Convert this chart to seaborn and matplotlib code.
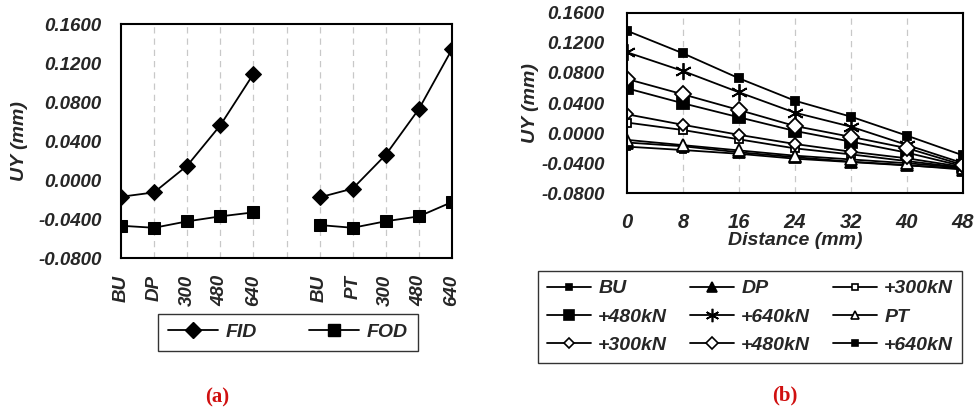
import matplotlib
matplotlib.use("Agg")
import matplotlib.pyplot as plt
from matplotlib.lines import Line2D
import seaborn as sns
import pandas as pd

# ---------------- data: panel (a) ----------------
a_cats = ["BU", "DP", "300", "480", "640", "", "BU", "PT", "300", "480", "640"]
fid_dp = [-0.0169, -0.0124, 0.0150, 0.0564, 0.1090]
fod_dp = [-0.0466, -0.0487, -0.0421, -0.0370, -0.0329]
fid_pt = [-0.0175, -0.0085, 0.0262, 0.0731, 0.1344]
fod_pt = [-0.0459, -0.0487, -0.0420, -0.0370, -0.0223]

# ---------------- data: panel (b) ----------------
distance = [0, 8, 16, 24, 32, 40, 48]
bu = [-0.0180, -0.0225, -0.0275, -0.0340, -0.0385, -0.0430, -0.0470]
dp = [-0.0125, -0.0175, -0.0255, -0.0320, -0.0380, -0.0425, -0.0485]
dp300 = [0.0140, 0.0041, -0.0083, -0.0203, -0.0283, -0.0372, -0.0460]
dp480 = [0.0595, 0.0396, 0.0210, 0.0028, -0.0114, -0.0260, -0.0440]
dp640 = [0.1074, 0.0825, 0.0542, 0.0271, 0.0085, -0.0158, -0.0400]
pt = [-0.0090, -0.0160, -0.0230, -0.0300, -0.0350, -0.0400, -0.0460]
pt300 = [0.0250, 0.0110, -0.0023, -0.0145, -0.0247, -0.0335, -0.0450]
pt480 = [0.0719, 0.0515, 0.0307, 0.0094, -0.0050, -0.0200, -0.0424]
pt640 = [0.1360, 0.1060, 0.0728, 0.0430, 0.0218, -0.0034, -0.0296]
b_labels = ["BU", "DP", "+300kN", "+480kN", "+640kN", "PT", "+300kN", "+480kN", "+640kN"]

sns.set_style("white")
plt.rcParams["font.family"] = ["Liberation Sans", "DejaVu Sans"]
plt.rcParams["font.weight"] = "bold"
plt.rcParams["font.style"] = "italic"
plt.rcParams["axes.labelweight"] = "bold"

W, H = 974, 408
fig = plt.figure(figsize=(W / 100, H / 100), dpi=100)

def rect(l, t, r, b):
    return [l / W, 1 - b / H, (r - l) / W, (b - t) / H]

ax1 = fig.add_axes(rect(121, 24.3, 452, 258.3))
ax2 = fig.add_axes(rect(627, 12.7, 963, 193.3))

grid_kw = dict(color="#c8c8c8", lw=0.9, ls=(0, (5, 4)), zorder=0)
yt = [-0.08, -0.04, 0.0, 0.04, 0.08, 0.12, 0.16]

# ---------------- panel (a) ----------------
pos = list(range(len(a_cats)))
left_pos = pos[0:5]
right_pos = pos[6:11]
for xs, ys in [(left_pos, fid_dp), (right_pos, fid_pt)]:
    sns.lineplot(x=xs, y=ys, ax=ax1, color="black", lw=1.3, marker="D",
                 markersize=8, markeredgecolor="black", markerfacecolor="black")
for xs, ys in [(left_pos, fod_dp), (right_pos, fod_pt)]:
    sns.lineplot(x=xs, y=ys, ax=ax1, color="black", lw=1.3, marker="s",
                 markersize=8.5, markeredgecolor="black", markerfacecolor="black")
for p in pos[1:-1]:
    ax1.axvline(p, **grid_kw)
ax1.set_xlim(pos[0], pos[-1])
ax1.set_ylim(yt[0], yt[-1])
ax1.set_yticks(yt)
ax1.set_yticklabels([f"{v:.4f}" for v in yt])
ax1.set_xticks(pos)
ax1.set_xticklabels(a_cats, rotation=90)
ax1.tick_params(axis="y", direction="out", length=5, width=1.2, pad=9, labelsize=13.5)
ax1.tick_params(axis="x", direction="out", length=0, pad=12, labelsize=13.5)
ax1.set_ylabel("UY (mm)", fontsize=14, labelpad=7)
ax1.set_xlabel("")

leg_a = [Line2D([], [], color="black", lw=1.3, marker="D", markersize=8, label="FID"),
         Line2D([], [], color="black", lw=1.3, marker="s", markersize=8.5, label="FOD")]
fig.legend(handles=leg_a, ncol=2, loc="lower left",
           bbox_to_anchor=(158 / W, 1 - 351 / H, (418 - 158) / W, (351 - 315) / H),
           mode="expand", borderaxespad=0, frameon=True, fancybox=False, edgecolor="black",
           fontsize=14, handlelength=2.6, handletextpad=0.4, borderpad=0.5, columnspacing=1.5)

# ---------------- panel (b) ----------------
b_series = [bu, dp, dp300, dp480, dp640, pt, pt300, pt480, pt640]
b_styles = [
    dict(marker="s", markersize=5, markerfacecolor="black"),
    dict(marker="^", markersize=9, markerfacecolor="black"),
    dict(marker="s", markersize=6, markerfacecolor="white"),
    dict(marker="s", markersize=9, markerfacecolor="black"),
    dict(marker=(6, 2, 0), markersize=12, markerfacecolor="black"),
    dict(marker="^", markersize=8, markerfacecolor="white"),
    dict(marker="D", markersize=6.5, markerfacecolor="white"),
    dict(marker="D", markersize=8, markerfacecolor="white"),
    dict(marker="s", markersize=5.5, markerfacecolor="black"),
]
handles_b = []
for ys, st, lab in zip(b_series, b_styles, b_labels):
    sns.lineplot(x=distance, y=ys, ax=ax2, color="black", lw=1.3,
                 markeredgecolor="black", markeredgewidth=1.3, **st)
    st_leg = dict(st)
    st_leg["markersize"] = st["markersize"] * 0.8
    handles_b.append(Line2D([], [], color="black", lw=1.3, markeredgecolor="black",
                            markeredgewidth=1.2, label=lab, **st_leg))
for d in distance[1:-1]:
    ax2.axvline(d, **grid_kw)
ax2.set_xlim(distance[0], distance[-1])
ax2.set_ylim(yt[0], yt[-1])
ax2.set_yticks(yt)
ax2.set_yticklabels([f"{v:.4f}" for v in yt])
ax2.set_xticks(distance)
ax2.set_xticklabels([str(d) for d in distance])
ax2.tick_params(axis="y", direction="out", length=5, width=1.2, pad=11, labelsize=13.5)
ax2.tick_params(axis="x", direction="out", length=0, pad=14, labelsize=14.5)
ax2.set_ylabel("UY (mm)", fontsize=14, labelpad=2)
ax2.set_xlabel("Distance (mm)", fontsize=14, labelpad=0)

# row-major order for a 3-column legend (matplotlib fills column by column)
order = [0, 3, 6, 1, 4, 7, 2, 5, 8]
fig.legend(handles=[handles_b[i] for i in order], ncol=3, loc="lower left",
           bbox_to_anchor=(538 / W, 1 - 362.7 / H, (962 - 538) / W, (362.7 - 257) / H),
           mode="expand", borderaxespad=0, frameon=True, fancybox=False, edgecolor="black",
           fontsize=14, handlelength=2.3, handletextpad=0.35, borderpad=0.45,
           labelspacing=0.55, columnspacing=0.6)

for ax in (ax1, ax2):
    for s in ax.spines.values():
        s.set_visible(True)
        s.set_color("black")
        s.set_linewidth(1.5)

fig.text(217 / W, 1 - 397 / H, "(a)", color="#d01010", fontsize=15, weight="bold",
         style="normal", family=["Liberation Serif", "DejaVu Serif"], ha="center", va="center")
fig.text(785 / W, 1 - 395 / H, "(b)", color="#d01010", fontsize=15, weight="bold",
         style="normal", family=["Liberation Serif", "DejaVu Serif"], ha="center", va="center")

fig.savefig("out.png", dpi=100, facecolor="white")
